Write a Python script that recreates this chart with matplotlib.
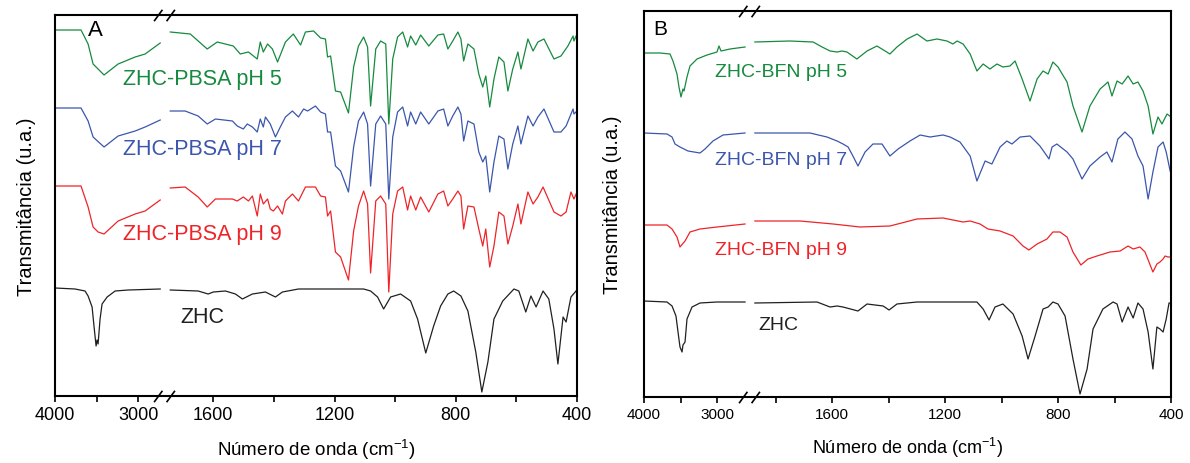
import numpy as np
import matplotlib
matplotlib.use('Agg')
import matplotlib.pyplot as plt
from matplotlib.path import Path
from matplotlib.ticker import NullFormatter
import matplotlib.transforms as mtransforms

plt.rcParams['font.family'] = ['Liberation Sans', 'DejaVu Sans']
plt.rcParams['mathtext.fontset'] = 'custom'
plt.rcParams['mathtext.rm'] = 'Liberation Sans'
plt.rcParams['mathtext.it'] = 'Liberation Sans:italic'
plt.rcParams['mathtext.bf'] = 'Liberation Sans:bold'

nan = np.nan

# spectra: (wavenumber cm-1, transmittance a.u.), nan = axis break
# panel A
a_pbsa5 = [(4000, 366), (3687, 366), (3602, 352), (3542, 332), (3410, 321), (3241, 332), (3036, 339),
           (2916, 342), (2735, 353), (nan, nan),
           (1742, 364), (1676, 362), (1620, 347), (1587, 354), (1534, 350), (1511, 342), (1484, 344),
           (1455, 337), (1445, 354), (1435, 344), (1421, 352), (1405, 347), (1388, 334), (1362, 354),
           (1336, 362), (1312, 351), (1296, 364), (1269, 365), (1246, 358), (1230, 357), (1223, 339),
           (1213, 340), (1197, 305), (1180, 304), (1154, 283), (1137, 329), (1121, 350), (1104, 359),
           (1091, 349), (1081, 290), (1064, 347), (1048, 355), (1031, 352), (1021, 272), (1008, 337),
           (992, 359), (975, 364), (959, 349), (949, 360), (932, 351), (916, 361), (889, 350), (859, 361),
           (840, 362), (826, 347), (810, 355), (793, 364), (783, 357), (774, 335), (760, 352), (740, 347),
           (724, 322), (711, 309), (701, 320), (688, 289), (674, 317), (658, 339), (641, 334), (628, 305),
           (612, 327), (595, 344), (585, 327), (562, 357), (545, 345), (529, 354), (509, 357), (476, 337),
           (453, 340), (430, 350), (413, 360), (410, 355), (400, 362)]
a_pbsa7 = [(4000, 288), (3687, 288), (3602, 275), (3542, 259), (3410, 249), (3241, 260), (3036, 265),
           (2916, 269), (2735, 276), (nan, nan),
           (1742, 285), (1693, 285), (1650, 280), (1620, 272), (1593, 277), (1537, 275), (1521, 270),
           (1501, 267), (1488, 272), (1471, 269), (1455, 264), (1445, 277), (1435, 269), (1428, 279),
           (1412, 272), (1395, 259), (1379, 269), (1362, 279), (1339, 285), (1319, 279), (1302, 287),
           (1289, 285), (1263, 290), (1246, 284), (1230, 282), (1223, 264), (1213, 264), (1197, 230),
           (1180, 225), (1154, 204), (1137, 249), (1121, 275), (1104, 284), (1091, 272), (1081, 210),
           (1064, 272), (1048, 280), (1031, 272), (1021, 197), (1008, 259), (992, 284), (975, 289),
           (959, 270), (949, 284), (932, 272), (916, 284), (889, 272), (859, 285), (840, 287), (826, 270),
           (810, 280), (793, 289), (783, 282), (774, 255), (760, 275), (740, 272), (724, 244), (711, 234),
           (701, 240), (688, 204), (674, 234), (658, 260), (641, 257), (628, 227), (612, 252), (595, 270),
           (585, 252), (562, 280), (545, 270), (529, 279), (509, 287), (476, 264), (453, 264), (436, 270),
           (413, 287), (410, 282), (400, 285)]
a_pbsa9 = [(4000, 210), (3687, 210), (3602, 189), (3542, 169), (3482, 164), (3410, 162), (3241, 175),
           (3036, 182), (2916, 185), (2735, 196), (nan, nan),
           (1742, 208), (1693, 209), (1650, 199), (1620, 189), (1593, 197), (1537, 197), (1521, 195),
           (1501, 199), (1484, 195), (1471, 200), (1455, 180), (1445, 202), (1435, 192), (1421, 197),
           (1412, 187), (1402, 185), (1388, 190), (1372, 182), (1362, 195), (1339, 202), (1319, 195),
           (1296, 209), (1263, 209), (1246, 200), (1230, 199), (1223, 180), (1213, 185), (1197, 144),
           (1180, 139), (1154, 116), (1137, 165), (1121, 190), (1104, 205), (1091, 192), (1081, 123),
           (1064, 195), (1048, 200), (1031, 192), (1021, 104), (1008, 182), (992, 205), (975, 209),
           (959, 186), (949, 200), (932, 186), (916, 199), (889, 184), (859, 202), (840, 205), (826, 190),
           (810, 197), (793, 205), (783, 200), (774, 167), (760, 190), (740, 189), (724, 167), (711, 150),
           (701, 167), (688, 129), (674, 150), (658, 184), (641, 180), (628, 152), (612, 170), (595, 192),
           (585, 172), (562, 204), (545, 192), (529, 199), (512, 209), (476, 184), (453, 180), (436, 184),
           (420, 204), (410, 197), (400, 204)]
a_zhc = [(4000, 108), (3759, 107), (3639, 105), (3602, 100), (3554, 89), (3530, 69), (3506, 50),
         (3494, 56), (3482, 52), (3458, 77), (3434, 92), (3373, 99), (3277, 105), (3120, 106),
         (2735, 107), (nan, nan),
         (1742, 106), (1650, 105), (1617, 102), (1600, 104), (1560, 105), (1527, 102), (1504, 97),
         (1471, 102), (1428, 104), (1395, 99), (1372, 104), (1319, 107), (1104, 107), (1081, 105),
         (1058, 99), (1038, 87), (1015, 99), (982, 102), (949, 95), (926, 77), (899, 43), (873, 70),
         (850, 90), (826, 102), (807, 105), (783, 100), (760, 85), (734, 44), (714, 4), (694, 34),
         (674, 77), (645, 95), (608, 107), (592, 105), (569, 84), (552, 100), (535, 89), (512, 105),
         (493, 97), (476, 67), (463, 32), (446, 79), (436, 74), (420, 99), (403, 105), (400, 107)]

# panel B
b_bfn5 = [(4000, 344), (3781, 344), (3644, 343), (3603, 336), (3548, 323), (3521, 310), (3493, 300),
          (3466, 308), (3452, 306), (3411, 320), (3370, 331), (3274, 338), (3137, 342), (3000, 345),
          (2973, 351), (2945, 346), (2822, 348), (2616, 350), (nan, nan),
          (1873, 355), (1749, 356), (1667, 355), (1635, 350), (1607, 346), (1582, 345), (1565, 346),
          (1547, 345), (1512, 338), (1476, 346), (1441, 351), (1412, 346), (1395, 343), (1370, 350),
          (1334, 358), (1299, 363), (1264, 356), (1228, 358), (1193, 356), (1172, 353), (1157, 356),
          (1136, 353), (1111, 343), (1087, 326), (1065, 333), (1041, 328), (1016, 333), (995, 330),
          (970, 331), (952, 336), (927, 318), (899, 296), (874, 318), (853, 326), (835, 323), (818, 335),
          (800, 330), (768, 315), (747, 291), (715, 265), (687, 291), (651, 308), (623, 315), (609, 301),
          (591, 316), (573, 313), (552, 321), (534, 313), (517, 315), (499, 306), (481, 291), (464, 263),
          (446, 280), (432, 273), (414, 283), (400, 280)]
b_bfn7 = [(4000, 264), (3685, 263), (3616, 260), (3575, 253), (3507, 250), (3397, 246), (3233, 244),
          (3164, 248), (3055, 256), (2918, 262), (2616, 264), (nan, nan),
          (1873, 264), (1678, 264), (1618, 260), (1582, 256), (1561, 253), (1543, 250), (1526, 241),
          (1508, 231), (1483, 245), (1455, 253), (1423, 253), (1395, 241), (1366, 248), (1324, 256),
          (1288, 262), (1253, 260), (1207, 262), (1182, 260), (1147, 255), (1111, 241), (1087, 216),
          (1058, 236), (1034, 233), (1005, 250), (981, 256), (963, 253), (934, 260), (899, 261),
          (864, 251), (839, 241), (832, 238), (821, 250), (804, 253), (768, 245), (747, 238), (715, 218),
          (687, 231), (651, 240), (627, 245), (609, 235), (588, 258), (563, 265), (538, 258), (517, 241),
          (499, 231), (481, 198), (464, 225), (446, 250), (428, 255), (417, 245), (403, 226)]
b_bfn9 = [(4000, 172), (3685, 172), (3616, 168), (3548, 160), (3507, 150), (3438, 156), (3370, 165),
          (3233, 168), (3000, 170), (2616, 173), (nan, nan),
          (1873, 176), (1713, 176), (1596, 173), (1501, 170), (1395, 171), (1299, 178), (1207, 179),
          (1136, 175), (1111, 176), (1076, 173), (1048, 168), (1005, 166), (959, 161), (924, 151),
          (903, 147), (874, 153), (839, 158), (818, 165), (793, 165), (768, 160), (747, 145), (719, 132),
          (694, 138), (662, 141), (616, 145), (580, 146), (552, 151), (534, 148), (510, 150), (492, 145),
          (478, 135), (464, 125), (450, 133), (439, 135), (428, 138), (421, 141), (411, 140), (400, 140)]
b_zhc = [(4000, 96), (3685, 95), (3616, 91), (3562, 81), (3534, 65), (3507, 50), (3479, 45), (3466, 52),
         (3438, 55), (3411, 78), (3342, 90), (3233, 94), (3000, 95), (2616, 95), (nan, nan),
         (1873, 94), (1653, 95), (1607, 90), (1582, 91), (1561, 90), (1508, 86), (1476, 93), (1419, 91),
         (1398, 87), (1370, 93), (1299, 95), (1087, 95), (1065, 88), (1044, 77), (1023, 90), (995, 93),
         (959, 83), (927, 61), (906, 38), (881, 61), (853, 88), (835, 90), (818, 95), (800, 93), (775, 81),
         (747, 38), (722, 3), (697, 28), (676, 68), (641, 88), (605, 95), (591, 93), (573, 75), (552, 90),
         (534, 79), (517, 94), (499, 88), (481, 65), (464, 28), (450, 70), (439, 68), (428, 65), (417, 78),
         (407, 94), (400, 94)]

labels_a = ['ZHC-PBSA pH 5', 'ZHC-PBSA pH 7', 'ZHC-PBSA pH 9', 'ZHC']
labels_b = ['ZHC-BFN pH 5', 'ZHC-BFN pH 7', 'ZHC-BFN pH 9', 'ZHC']
colors = ['#168a3e', '#3b56ad', '#ee2428', '#202020']

major_ticks = [4000, 3000, 1600, 1200, 800, 400]
minor_a = [3500, 1400, 1000, 600]
minor_b = [3500, 1800, 1400, 1000, 600]


def broken_scale(k_left, k_right, p1600, wn_left_end, wn_right_start):
    # piecewise linear wavenumber axis: 4000-~2700 compressed, ~1800-400 expanded
    xp = [0, wn_right_start, wn_left_end, 6000]
    fp = [p1600 + 1600 * k_right, p1600 + (1600 - wn_right_start) * k_right,
          (4000 - wn_left_end) * k_left, -2000 * k_left]

    def fwd(w):
        return -np.interp(w, xp, fp)

    def inv(t):
        return np.interp(-np.asarray(t), fp[::-1], xp[::-1])
    return fwd, inv


brk = Path([(-1.0, -0.55), (-0.2, 0.55), (0.2, -0.55), (1.0, 0.55)],
           [Path.MOVETO, Path.LINETO, Path.MOVETO, Path.LINETO])


def panel(ax, curves, labels, text_pos, scale, minor, brk_wn, letter, letter_pos, letter_fs,
          ylim, fs_tick, fs_lab, fs_axis, ypad):
    ax.set_xscale('function', functions=scale)
    for c, col in zip(curves, colors):
        d = np.array(c, dtype=float)
        ax.plot(d[:, 0], d[:, 1], color=col, lw=0.9)
    for lab, (x, y), col in zip(labels, text_pos, colors):
        ax.text(x, y, lab, color=col, fontsize=fs_lab, ha='left', va='baseline')
    ax.set_xlim(4000, 400)
    ax.set_ylim(*ylim)
    ax.set_xticks(major_ticks, [str(t) for t in major_ticks])
    ax.set_xticks(minor, minor=True)
    ax.xaxis.set_minor_formatter(NullFormatter())
    ax.set_yticks([])
    ax.tick_params(axis='x', which='both', direction='out', length=4.5, width=1.2,
                   labelsize=fs_tick, pad=3)
    for s in ax.spines.values():
        s.set_linewidth(1.5)
    trans = mtransforms.blended_transform_factory(ax.transData, ax.transAxes)
    ax.plot([brk_wn, brk_wn], [0, 1], transform=trans, marker=brk, markersize=15,
            markeredgewidth=1.2, color='k', linestyle='none', clip_on=False)
    ax.text(letter_pos[0], letter_pos[1], letter, transform=ax.transAxes,
            fontsize=letter_fs, va='baseline', ha='left')
    ax.set_xlabel('Número de onda (cm$^{\\mathrm{-1}}$)', fontsize=fs_axis, labelpad=10)
    ax.set_ylabel('Transmitância (u.a.)', fontsize=14.5, labelpad=ypad)


fig = plt.figure(figsize=(11.9, 4.64), dpi=100)
ax_a = fig.add_axes([55 / 1190, 67 / 464, 522 / 1190, 381 / 464])
ax_b = fig.add_axes([644 / 1190, 66 / 464, 527 / 1190, 386 / 464])

panel(ax_a, [a_pbsa5, a_pbsa7, a_pbsa9, a_zhc], labels_a,
      [(3181, 312), (3181, 242), (3181, 157), (1709, 74)],
      broken_scale(0.083, 0.3025, 158, 2735, 1742), minor_a, 2338, 'A', (0.064, 0.948), 16,
      (0, 381), 13, 15.5, 13.5, 14)
panel(ax_b, [b_bfn5, b_bfn7, b_bfn9, b_zhc], labels_b,
      [(3027, 321), (3027, 233), (3027, 143), (1862, 68)],
      broken_scale(0.073, 0.2825, 188, 2616, 1873), minor_b, 2316, 'B', (0.018, 0.940), 15,
      (0, 386), 11, 14, 13, 16)

fig.savefig('out.png', dpi=100)
